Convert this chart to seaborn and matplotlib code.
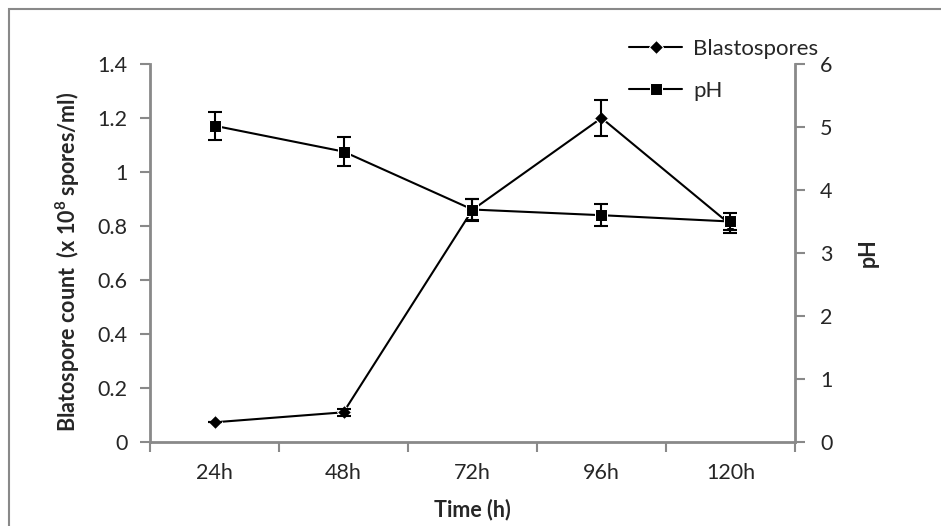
import matplotlib
matplotlib.use("Agg")
import matplotlib.pyplot as plt
import seaborn as sns
import pandas as pd
from matplotlib.patches import Rectangle
from matplotlib.ticker import FixedLocator, NullFormatter

times = ["24h", "48h", "72h", "96h", "120h"]
blasto = [0.073, 0.11, 0.86, 1.2, 0.805]
blasto_err = [0.0, 0.012, 0.04, 0.068, 0.03]
ph = [5.02, 4.61, 3.69, 3.6, 3.5]
ph_err = [0.22, 0.23, 0.17, 0.17, 0.13]

sns.set_style("white")
plt.rcParams["font.family"] = ["Lato", "DejaVu Sans"]
plt.rcParams["mathtext.fontset"] = "custom"
plt.rcParams["mathtext.rm"] = "Lato"
plt.rcParams["mathtext.bf"] = "Lato:bold"

df = pd.DataFrame({"time": times, "blasto": blasto, "ph": ph})
pos = list(range(len(times)))
grey = "#898989"
tick_fs = 15.5

fig = plt.figure(figsize=(9.41, 5.26), dpi=100)
fig.patches.append(Rectangle((9 / 941, -0.1), 1.2, 1 - 9 / 526 + 0.1,
                             transform=fig.transFigure, fill=False,
                             edgecolor=grey, linewidth=1.5))
ax = fig.add_axes([150 / 941, 1 - 442 / 526, 645 / 941, 378 / 526])
ax2 = ax.twinx()

sns.lineplot(data=df, x="time", y="blasto", ax=ax, color="black", marker="D",
             markersize=7, linewidth=1.5, label="Blastospores", legend=False)
ax.errorbar(pos, blasto, yerr=blasto_err, fmt="none", ecolor="black",
            elinewidth=1.5, capsize=5, capthick=1.5)

sns.lineplot(data=df, x="time", y="ph", ax=ax2, color="black", marker="s",
             markersize=9, linewidth=1.5, label="pH", legend=False)
ax2.errorbar(pos, ph, yerr=ph_err, fmt="none", ecolor="black",
             elinewidth=1.5, capsize=5, capthick=1.5)

ax.set_xlim(-0.5, len(times) - 0.5)
ax.set_ylim(0, 1.4)
ax2.set_ylim(0, 6)
ax.set_yticks([0, 0.2, 0.4, 0.6, 0.8, 1, 1.2, 1.4])
ax.set_yticklabels(["0", "0.2", "0.4", "0.6", "0.8", "1", "1.2", "1.4"])
ax2.set_yticks(range(0, 7))

ax.set_xticks(pos)
ax.set_xticklabels(times)
ax.xaxis.set_minor_locator(FixedLocator([p - 0.5 for p in pos] + [len(times) - 0.5]))
ax.xaxis.set_minor_formatter(NullFormatter())
ax.tick_params(axis="x", which="major", length=0, pad=15, labelsize=tick_fs)
ax.tick_params(axis="x", which="minor", length=7, width=1.5, color=grey,
               direction="out", bottom=True)
ax.tick_params(axis="y", length=7, width=1.5, color=grey, direction="out",
               left=True, labelsize=tick_fs, pad=9)
ax2.tick_params(axis="y", length=7, width=1.5, color=grey, direction="out",
                right=True, labelsize=tick_fs, pad=11)

for a in (ax, ax2):
    for s in a.spines.values():
        s.set_visible(False)
ax.spines["left"].set_visible(True)
ax.spines["bottom"].set_visible(True)
ax2.spines["right"].set_visible(True)
for s in (ax.spines["left"], ax.spines["bottom"], ax2.spines["right"]):
    s.set_color(grey)
    s.set_linewidth(2)

ax.set_xlabel("Time (h)", fontsize=15.5, fontweight="bold")
ax.xaxis.set_label_coords(0.5, (442 - 510) / 378)
ax.xaxis.label.set_verticalalignment("center")
ax.set_ylabel(r"Blatospore count  (x 10$^{\mathbf{8}}$ spores/ml)",
              fontsize=15.5, fontweight="bold")
ax.yaxis.set_label_coords((68 - 150) / 645, (442 - 262) / 378)
ax.yaxis.label.set_verticalalignment("center")
ax2.set_ylabel("pH", fontsize=15.5, fontweight="bold")
ax2.yaxis.set_label_coords((868 - 150) / 645, (442 - 253) / 378)
ax2.yaxis.label.set_verticalalignment("center")

h1, l1 = ax.get_legend_handles_labels()
h2, l2 = ax2.get_legend_handles_labels()
fig.legend(h1 + h2, l1 + l2, loc="upper left", bbox_to_anchor=(620 / 941, 1 - 30 / 526),
           frameon=False, fontsize=16, labelspacing=1.0, handlelength=2.4,
           handletextpad=0.5, borderaxespad=0)

fig.savefig("out.png", dpi=100)
